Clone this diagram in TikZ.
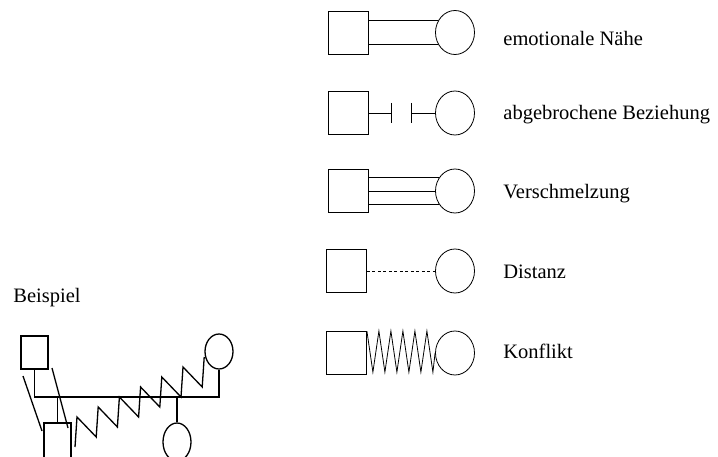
\documentclass[tikz,border=0pt]{standalone}
\usepackage{fontspec}
\setmainfont{Liberation Serif}
\usetikzlibrary{shapes.geometric,calc}

\begin{document}
\begin{tikzpicture}[x=1pt,y=-1pt,line width=0.8pt,
  mann/.style={draw,rectangle,inner sep=0pt,minimum width=40pt,minimum height=43pt},
  frau/.style={draw,ellipse,inner sep=0pt,minimum width=39pt,minimum height=44pt},
  kleinmann/.style={draw,rectangle,inner sep=0pt,minimum width=27pt,minimum height=33pt},
  kleinfrau/.style={draw,ellipse,inner sep=0pt,minimum width=28pt,minimum height=35pt},
  legtext/.style={anchor=base west,inner sep=0pt,font=\fontsize{20.5}{24}\selectfont}]
\path[use as bounding box] (0,0) rectangle (718,457);
% Legende
\node[mann] (m1) at (348,32.5) {};
\node[frau] (f1) at (455,32.5) {};
\draw (m1.east |- f1.144) -- (f1.144);
\draw (m1.east |- f1.216) -- (f1.216);
\node[legtext] (t1) at (503,46) {emotionale Nähe};
\node[mann] (m2) at (348,113) {};
\node[frau] (f2) at (455,113) {};
\coordinate (b1) at ($(m2.east)+(23,0)$);
\coordinate (b2) at ($(f2.west)+(-24,0)$);
\draw (m2.east) -- (b1);
\draw ([yshift=10pt]b1) -- ([yshift=-10pt]b1);
\draw ([yshift=10pt]b2) -- ([yshift=-10pt]b2);
\draw (b2) -- (f2.west);
\node[legtext] (t2) at (503,120) {abgebrochene Beziehung};
\node[mann] (m3) at (348,191) {};
\node[frau] (f3) at (455,191) {};
\draw (m3.east |- f3.139) -- (f3.139);
\draw (m3.east) -- (f3.west);
\draw (m3.east |- f3.221) -- (f3.221);
\node[legtext] (t3) at (503,199) {Verschmelzung};
\node[mann] (m4) at (346.5,271) {};
\node[frau] (f4) at (455,271) {};
\draw[dash pattern=on 3pt off 2.5pt] (m4.east) -- (f4.west);
\node[legtext] (t4) at (503,279) {Distanz};
\node[mann] (m5) at (346.5,353) {};
\node[frau] (f5) at (455,353) {};
\draw (m5.north east) \foreach \i in {1,...,5} {-- ++(6,41) -- ++(6,-41)} -- ++(6,41) -- (f5.west);
\node[legtext] (t5) at (503,358) {Konflikt};
% Beispiel
\node[legtext] (tb) at (13,302) {Beispiel};
\begin{scope}[line width=1.3pt]
\node[kleinmann] (vater) at (34.5,352.5) {};
\node[kleinfrau] (mutter) at (219,351.5) {};
\node[kleinmann,minimum height=40pt] (sohn) at (57.5,443) {};
\node[kleinfrau,minimum height=38pt] (tochter) at (177,442) {};
\coordinate (linie) at (0,397);
\draw (vater.south) -- (vater.south |- linie) -- (mutter.south |- linie) -- (mutter.south);
\draw (sohn.north) -- (sohn.north |- linie);
\draw (tochter.north) -- (tochter.north |- linie);
\draw (23,376) -- (42,431);
\draw (52,368) -- (68,428);
\coordinate (zz) at (75,447);
\draw (zz) \foreach \i in {1,...,6} {-- ++(2,-30) -- ++(19.2,20)} -- ++(2,-30);
\end{scope}
\end{tikzpicture}
\end{document}
